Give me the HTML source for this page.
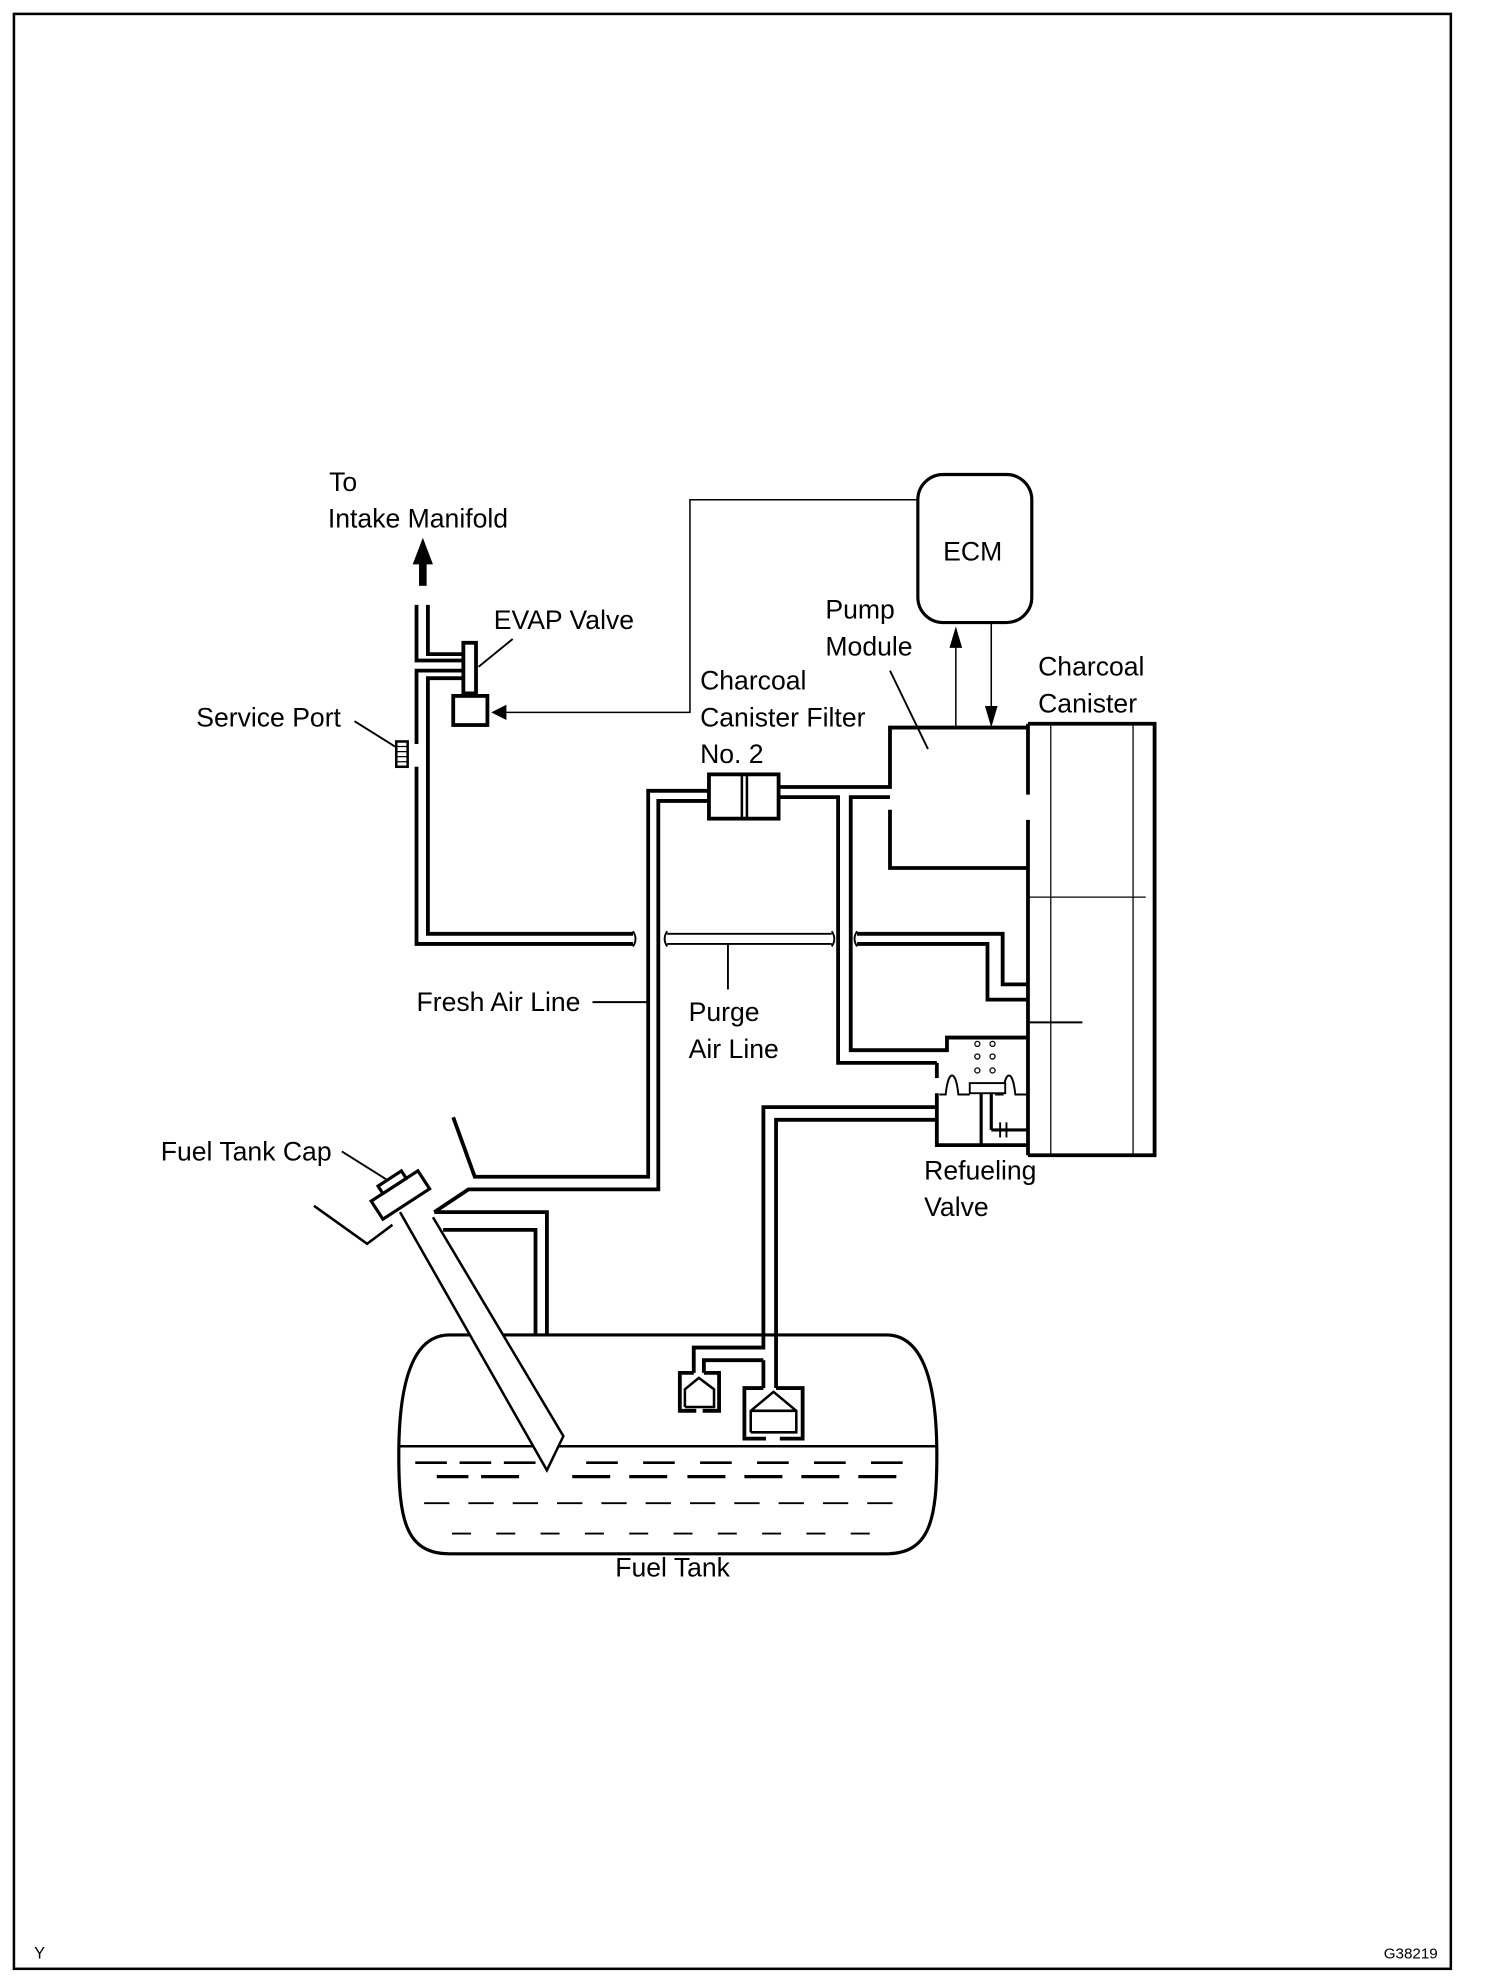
<!DOCTYPE html>
<html><head><meta charset="utf-8"><style>
html,body{margin:0;padding:0;background:#fff;}
svg{display:block;}
text{font-family:"Liberation Sans",Arial,sans-serif;font-size:21px;fill:#000;}
</style></head><body>
<svg width="1504" height="1984" viewBox="0 0 1188 1568" preserveAspectRatio="none" xmlns="http://www.w3.org/2000/svg">
<rect x="11" y="11" width="1135" height="1545" fill="none" stroke="#000" stroke-width="2"/>
<g fill="none" stroke="#000" stroke-width="3" stroke-linejoin="miter">
<polyline points="329,478 329,522 366,522"/>
<polyline points="338,478 338,517 366,517"/>
<polyline points="366,530 329,530 329,588"/>
<polyline points="366,536 338,536 338,738 500,738"/>
<polyline points="329,606 329,746 500,746"/>
<rect x="366" y="508" width="10" height="40"/>
<rect x="358" y="550" width="27" height="23"/>
<rect x="313" y="586" width="9" height="20" stroke-width="2"/>
<path d="M313,590h9 M313,594h9 M313,598h9 M313,602h9" stroke-width="1"/>
<path d="M500,736 q4,6 0,12 M527,736 q-4,6 0,12 M657,736 q4,6 0,12 M677,736 q-4,6 0,12" stroke-width="1.5"/>
<line x1="527" y1="738" x2="657" y2="738" stroke-width="1.5"/>
<line x1="527" y1="746" x2="657" y2="746" stroke-width="1.5"/>
<polyline points="560,625 512,625 512,930 375,930 358,883"/>
<polyline points="560,633 520,633 520,940 370,940 343,958"/>
<rect x="560" y="612" width="55" height="35"/>
<line x1="586" y1="612" x2="586" y2="647" stroke-width="2"/>
<line x1="590" y1="612" x2="590" y2="647" stroke-width="2"/>
<polyline points="615,622 703,622 703,575 812,575"/>
<polyline points="615,630 662,630 662,840 740,840"/>
<polyline points="703,630 672,630 672,830 748,830 748,820 812,820"/>
<polyline points="703,640 703,686 812,686"/>
<polyline points="677,738 792,738 792,778 812,778"/>
<polyline points="677,746 780,746 780,790 812,790"/>
<line x1="812" y1="572" x2="812" y2="628"/>
<line x1="812" y1="648" x2="812" y2="913"/>
<polyline points="812,572 912,572 912,913 812,913"/>
<polyline points="740,840 740,852"/>
<polyline points="740,864 740,905 812,905"/>
<polyline points="740,875 603,875 603,1065 548,1065 548,1085"/>
<polyline points="740,885 613,885 613,1097"/>
<polyline points="603,1075 556,1075 556,1085"/>
<polyline points="603,1075 603,1097"/>
<polyline points="343,958 432,958 432,1055"/>
<polyline points="350,972 423,972 423,1055"/>
<polyline points="248,953 290,983 310,968" stroke-width="2"/>
<path d="M355,1055 L700,1055 C735,1055 740,1110 740,1150 C740,1200 735,1228 700,1228 L355,1228 C320,1228 315,1200 315,1150 C315,1110 320,1055 355,1055 Z" stroke-width="2.5"/>
</g>
<g fill="none" stroke="#000" stroke-width="2">
<line x1="315" y1="1143" x2="740" y2="1143"/>
<path d="M328,1156h25 M363,1156h25 M398,1156h25 M463,1156h25 M508,1156h25 M553,1156h25 M598,1156h25 M643,1156h25 M688,1156h25" />
<path d="M345,1167h25 M380,1167h30 M452,1167h30 M497,1167h30 M543,1167h30 M588,1167h30 M633,1167h30 M678,1167h30" stroke-width="2.5"/>
<path d="M335,1188h20 M370,1188h20 M405,1188h20 M440,1188h20 M475,1188h20 M510,1188h20 M545,1188h20 M580,1188h20 M615,1188h20 M650,1188h20 M685,1188h20" stroke-width="1.5"/>
<path d="M357,1212h15 M392,1212h15 M427,1212h15 M462,1212h15 M497,1212h15 M532,1212h15 M567,1212h15 M602,1212h15 M637,1212h15 M672,1212h15" stroke-width="1.5"/>
<polyline points="548,1085 537,1085 537,1115 550,1115" stroke-width="3"/>
<polyline points="556,1085 568,1085 568,1115 555,1115" stroke-width="3"/>
<polyline points="541,1112 541,1098 552,1089 564,1098 564,1112 541,1112"/>
<polyline points="603,1097 588,1097 588,1137 605,1137" stroke-width="3"/>
<polyline points="613,1097 634,1097 634,1137 616,1137" stroke-width="3"/>
<polyline points="593,1132 593,1115 611,1100 629,1115 629,1132 593,1132"/>
<line x1="593" y1="1115" x2="629" y2="1115"/>
<line x1="830" y1="572" x2="830" y2="913" stroke-width="1"/>
<line x1="895" y1="572" x2="895" y2="913" stroke-width="1"/>
<line x1="812" y1="709" x2="905" y2="709" stroke-width="1"/>
<line x1="812" y1="808" x2="855" y2="808" stroke-width="1.5"/>
<path d="M742,865h5 c2,-20 8,-20 10,0 h9" stroke-width="1.5"/>
<path d="M786,865h6 c2,-20 8,-20 10,0 h10" stroke-width="1.5"/>
<rect x="766" y="856" width="28" height="8" stroke-width="1.5" fill="#fff"/>
<line x1="775" y1="864" x2="775" y2="905" stroke-width="2.5"/>
<line x1="783" y1="864" x2="783" y2="893" stroke-width="2.5"/>
<polyline points="783,893 812,893" stroke-width="2.5"/>
<path d="M790,887v12 M795,887v12" stroke-width="1.5"/>
<g stroke-width="1"><circle cx="772" cy="825" r="2"/><circle cx="784" cy="825" r="2"/><circle cx="772" cy="835" r="2"/><circle cx="784" cy="835" r="2"/><circle cx="772" cy="846" r="2"/><circle cx="784" cy="846" r="2"/></g>
<rect x="725" y="375" width="90" height="117" rx="20" stroke-width="2.5"/>
<polyline points="725,395 545,395 545,563 400,563" stroke-width="1.2"/>
<line x1="755" y1="510" x2="755" y2="575" stroke-width="1.2"/>
<line x1="783" y1="492" x2="783" y2="560" stroke-width="1.2"/>
<line x1="280" y1="570" x2="312" y2="590" stroke-width="1.5"/>
<line x1="405" y1="505" x2="378" y2="527" stroke-width="1.5"/>
<line x1="703" y1="530" x2="733" y2="592" stroke-width="1.5"/>
<line x1="468" y1="792" x2="512" y2="792" stroke-width="1.5"/>
<line x1="575" y1="746" x2="575" y2="782" stroke-width="1.5"/>
<line x1="270" y1="910" x2="305" y2="932" stroke-width="1.5"/>
</g>
<polygon points="316,958 432,1162 445,1135 342,962" fill="#fff"/>
<polyline points="316,958 432,1162 445,1135 342,962" fill="none" stroke="#000" stroke-width="2"/>
<g transform="translate(316,944) rotate(-33)" fill="#fff" stroke="#000" stroke-width="2.5">
<rect x="-22" y="-8" width="44" height="17"/>
<rect x="-11" y="-15" width="22" height="7"/>
</g>
<g fill="#000">
<polygon points="388,563 400,557 400,569"/>
<polygon points="755,495 750,512 760,512"/>
<polygon points="783,575 778,558 788,558"/>
<polygon points="334,425 326,446 342,446"/>
<rect x="331" y="444" width="6" height="19"/>
</g>
<g>
<text x="260" y="388">To</text>
<text x="259" y="417">Intake Manifold</text>
<text x="390" y="497">EVAP Valve</text>
<text x="155" y="574">Service Port</text>
<text x="745" y="443">ECM</text>
<text x="652" y="489">Pump</text>
<text x="652" y="518">Module</text>
<text x="553" y="545">Charcoal</text>
<text x="553" y="574">Canister Filter</text>
<text x="553" y="603">No. 2</text>
<text x="820" y="534">Charcoal</text>
<text x="820" y="563">Canister</text>
<text x="329" y="799">Fresh Air Line</text>
<text x="544" y="807">Purge</text>
<text x="544" y="836">Air Line</text>
<text x="127" y="917">Fuel Tank Cap</text>
<text x="730" y="932">Refueling</text>
<text x="730" y="961">Valve</text>
<text x="486" y="1246">Fuel Tank</text>
<text x="27" y="1548" style="font-size:13px">Y</text>
<text x="1093" y="1548" style="font-size:12px">G38219</text>
</g>
</svg>
</body></html>
